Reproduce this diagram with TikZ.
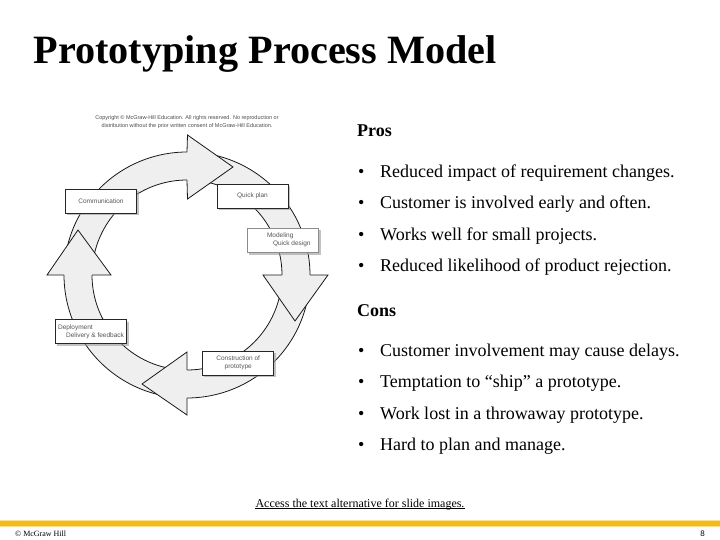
\documentclass[tikz,border=0pt]{standalone}
\usepackage{fontspec}
\setmainfont{Liberation Serif}
\setsansfont{Liberation Sans}
\usetikzlibrary{calc}
\definecolor{ringfill}{HTML}{EFEFEF}
\definecolor{barcol}{HTML}{F6B91A}
\definecolor{barlite}{HTML}{FBE28E}
\definecolor{shadowcol}{HTML}{9A9A9A}
\definecolor{boxtext}{HTML}{555555}
\tikzset{
  x=1pt,y=-1pt,
  ringline/.style={draw=black!90,line width=0.8pt},
  stagebox/.style={draw=black!85,line width=1pt,fill=white,minimum width=71pt,minimum height=24pt,inner sep=0pt,align=center,font=\sffamily\fontsize{6.5}{8}\selectfont,text=boxtext},
  shadowbox/.style={fill=shadowcol,draw=none,opacity=0.6},
  item/.style={anchor=base west,inner sep=0pt,font=\fontsize{18}{20}\selectfont,text=black},
  head/.style={anchor=base west,inner sep=0pt,font=\bfseries\fontsize{18}{20}\selectfont},
}
\newcommand{\Bul}{\makebox[22pt][l]{•}}
\newcommand{\RingArrow}[2]{% start angle, end angle
  \fill[ringfill] plot[domain=#1:#2+1,samples=40] ({187+123*cos(\x)},{275+123*sin(\x)})
    -- plot[domain=#2+1:#1,samples=40] ({187+95*cos(\x)},{275+95*sin(\x)}) -- cycle;
  \draw[ringline] plot[domain=#1:#2,samples=40] ({187+123*cos(\x)},{275+123*sin(\x)});
  \draw[ringline] plot[domain=#1:#2,samples=40] ({187+95*cos(\x)},{275+95*sin(\x)});
}
\newcommand{\RingHead}[4]{% end angle, outer base, inner base, tip
  \fill[ringfill] (#2) -- (#4) -- (#3) -- cycle;
  \draw[ringline,line join=miter] ({187+123*cos(#1)},{275+123*sin(#1)}) -- (#2) -- (#4) -- (#3) -- ({187+95*cos(#1)},{275+95*sin(#1)});
}
\begin{document}
\begin{tikzpicture}
\useasboundingbox (0,0) rectangle (720,540);
\fill[white] (0,0) rectangle (720,540);
\node[anchor=base west,inner sep=0pt,font=\bfseries\fontsize{40.2}{42}\selectfont] (title) at (33.5,64) {Prototyping Process Model};

% ring shafts
\RingArrow{185}{270}
\RingArrow{275}{360}
\RingArrow{5}{90}
\RingArrow{95}{180}
% heads
\RingHead{270}{187.5,135}{187.5,199}{233,167}
\RingHead{360}{328,275}{263,275}{295,321}
\RingHead{90}{187,415}{187,352}{142,384}
\RingHead{180}{47,275}{111,275}{78,230}

% boxes with shadows
\fill[shadowbox] (67,191.5) rectangle (138.5,215.5);
\fill[shadowbox] (218.5,186.5) rectangle (290,210.5);
\fill[shadowbox] (249,230.5) rectangle (321,254.5);
\fill[shadowbox] (204,353) rectangle (276,377);
\fill[shadowbox] (57,322) rectangle (128.5,345.5);
\node[stagebox] (comm) at (101,201.3) {Communication};
\node[stagebox] (plan) at (252.5,196.3) {Quick plan};
\node[stagebox,draw=black!45,align=left] (model) at (283.3,240.3) {\hspace*{11pt}Modeling\\\hspace*{17pt}Quick design};
\node[stagebox] (cons) at (238.2,363) {Construction of\\prototype};
\node[stagebox,align=left] (depl) at (91,331.7) {Deployment\\\hspace*{8pt}Delivery \& feedback};
\node[inner sep=0pt,align=center,font=\sffamily\fontsize{5.5}{8}\selectfont,text=black!70] (copy) at (187,122) {Copyright © McGraw-Hill Education. All rights reserved. No reproduction or\\distribution without the prior written consent of McGraw-Hill Education.};

% text column
\node[head] (pros) at (357,137) {Pros};
\node[item] (p1) at (358,177.7) {\Bul Reduced impact of requirement changes.};
\node[item] (p2) at (358,208.7) {\Bul Customer is involved early and often.};
\node[item] (p3) at (358,240.7) {\Bul Works well for small projects.};
\node[item] (p4) at (358,271.7) {\Bul Reduced likelihood of product rejection.};
\node[head] (consT) at (357,316) {Cons};
\node[item] (c1) at (358,356.7) {\Bul Customer involvement may cause delays.};
\node[item] (c2) at (358,387.7) {\Bul Temptation to “ship” a prototype.};
\node[item] (c3) at (358,419.7) {\Bul Work lost in a throwaway prototype.};
\node[item] (c4) at (358,450.7) {\Bul Hard to plan and manage.};

% footer
\node[anchor=base,inner sep=0pt,font=\fontsize{12}{14}\selectfont] (access) at (360,507) {Access the text alternative for slide images.};
\draw[line width=1pt] (access.base west) ++(0,1.5) -- ($(access.base east)+(0,1.5)$);
\fill[barlite] (0,520) rectangle (720,527);
\fill[barcol] (0,521) rectangle (720,526);
\node[anchor=base west,inner sep=0pt,font=\fontsize{8}{9}\selectfont] (mh) at (15,536) {© McGraw Hill};
\node[anchor=base east,inner sep=0pt,font=\sffamily\fontsize{8}{9}\selectfont] (pg) at (705,536) {8};
\end{tikzpicture}
\end{document}
